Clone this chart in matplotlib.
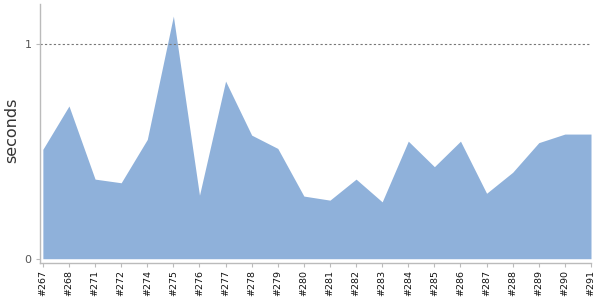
import matplotlib
matplotlib.use("Agg")
import matplotlib.pyplot as plt
import numpy as np

builds = ["#267", "#268", "#271", "#272", "#274", "#275", "#276", "#277", "#278", "#279",
          "#280", "#281", "#282", "#283", "#284", "#285", "#286", "#287", "#288", "#289",
          "#290", "#291"]
seconds = [0.51, 0.712, 0.371, 0.354, 0.556, 1.131, 0.296, 0.828, 0.576, 0.514,
           0.292, 0.273, 0.371, 0.265, 0.548, 0.429, 0.548, 0.305, 0.403, 0.541,
           0.581, 0.581]
yticks = [0, 1]

fig = plt.figure(figsize=(6, 3), dpi=100)
ax = fig.add_axes([40 / 600, (300 - 263) / 300, (591 - 40) / 600, (263 - 4.5) / 300])

x = np.arange(len(builds))
ax.fill_between(x, 0, seconds, color="#8fb1da", linewidth=0)
ax.axhline(1, color="#777777", linestyle=(0, (2, 2)), linewidth=0.8)

ax.set_xlim(-0.11, len(builds) - 1)
ax.set_ylim(-0.02, 1.185)

ax.set_xticks(x)
ax.set_xticklabels(builds, rotation=90, fontsize=6.8, color="#111111")
ax.set_yticks(yticks)
ax.set_yticklabels([str(v) for v in yticks], fontsize=8, color="#555555")
ax.tick_params(axis="x", length=3, color="#bbbbbb", pad=2)
ax.tick_params(axis="y", length=3, color="#bbbbbb", pad=3)

for side in ["top", "right"]:
    ax.spines[side].set_visible(False)
for side in ["left", "bottom"]:
    ax.spines[side].set_color("#bbbbbb")
    ax.spines[side].set_linewidth(1)

ax.set_ylabel("seconds", fontsize=11.5, color="#333333")
ax.yaxis.set_label_coords(-0.038, 0.513)

fig.savefig("out.png", dpi=100)
